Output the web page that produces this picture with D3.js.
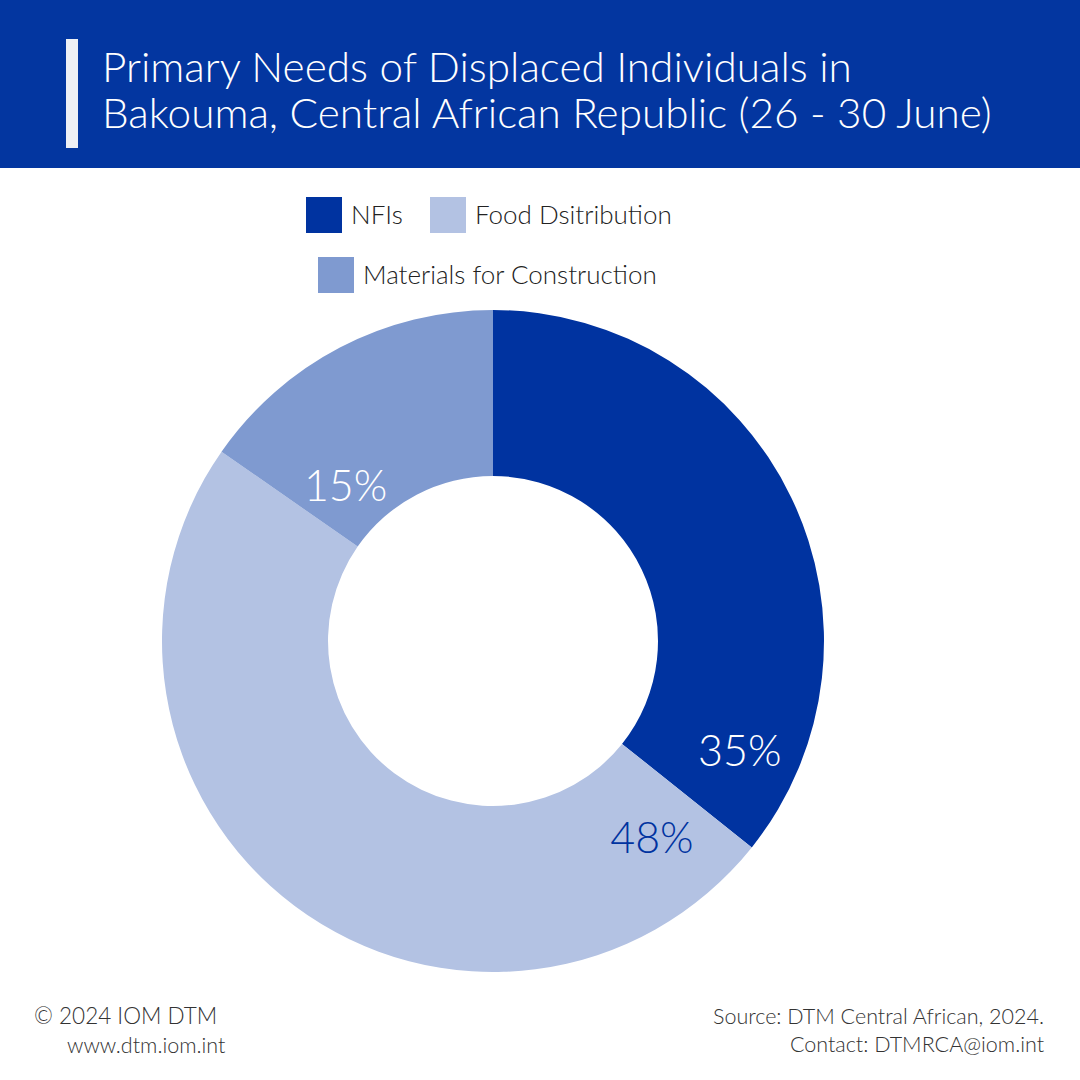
<!DOCTYPE html>
<html>
<head>
<meta charset="utf-8">
<script src="https://cdn.jsdelivr.net/npm/d3@7"></script>
<style>
  html, body { margin: 0; padding: 0; background: #fff; }
  svg text { font-family: Lato, "Open Sans", sans-serif; }
</style>
</head>
<body>
<div id="chart"></div>
<script>
    // Data
    const categories = ["NFIs", "Food Dsitribution", "Materials for Construction"];
    const values = [35, 48, 15];
    const colors = ["#0033a0", "#b3c2e3", "#7f9ad0"];
    const labelColors = ["#ffffff", "#0033a0", "#ffffff"];
    const titleLines = ["Primary Needs of Displaced Individuals in",
      "Bakouma, Central African Republic (26 - 30 June)"];

    // where each % label sits: fraction along its slice, radius
    const labelSpot = [[0.886, 270], [0.071, 253], [0.21, 214]];

    const width = 1080, height = 1080;
    const svg = d3.select("#chart").append("svg")
      .attr("width", width)
      .attr("height", height);

    // Header band
    svg.append("rect").attr("width", width).attr("height", 168).attr("fill", "#0336a0");
    svg.append("rect").attr("x", 66).attr("y", 39).attr("width", 12).attr("height", 109).attr("fill", "#eef0f5");

    const title = svg.append("g");
    titleLines.forEach((t, i) => {
      title.append("text")
        .attr("x", 102)
        .attr("y", 82 + i * 46)
        .attr("fill", "#fff")
        .attr("font-weight", 300)
        .attr("font-size", 40)
        .text(t);
    });
    // fit the long line to the width seen in the picture
    const longest = title.selectAll("text").nodes()[1].getComputedTextLength();
    title.selectAll("text").attr("font-size", 40 * 890 / longest);

    // Legend
    const legendItems = [
      { x: 306, y: 197 },
      { x: 430, y: 197 },
      { x: 318, y: 257 }
    ];
    const legend = svg.append("g");
    categories.forEach((c, i) => {
      const p = legendItems[i];
      legend.append("rect")
        .attr("x", p.x).attr("y", p.y)
        .attr("width", 36).attr("height", 36)
        .attr("fill", colors[i]);
      legend.append("text")
        .attr("x", p.x + 45).attr("y", p.y + 27)
        .attr("font-size", 26)
        .attr("font-weight", 300)
        .attr("fill", "#222")
        .text(c);
    });

    // Donut
    const cx = 493, cy = 641, outerR = 331, innerR = 165;
    const pie = d3.pie().sort(null).value(d => d);
    const arcs = pie(values);
    const arc = d3.arc().innerRadius(innerR).outerRadius(outerR);

    const g = svg.append("g").attr("transform", `translate(${cx},${cy})`);
    g.selectAll("path")
      .data(arcs)
      .join("path")
      .attr("d", arc)
      .attr("fill", (d, i) => colors[i]);

    g.selectAll("text.pct")
      .data(arcs)
      .join("text")
      .attr("class", "pct")
      .attr("transform", (d, i) => {
        const a = d.startAngle + (d.endAngle - d.startAngle) * labelSpot[i][0];
        const r = labelSpot[i][1];
        return `translate(${Math.sin(a) * r},${-Math.cos(a) * r})`;
      })
      .attr("text-anchor", "middle")
      .attr("dy", "0.36em")
      .attr("font-size", 43)
      .attr("font-weight", 300)
      .attr("fill", (d, i) => labelColors[i])
      .text(d => d.data + "%");

    // Footer
    const foot = svg.append("g").attr("fill", "#333").attr("font-size", 21.5).attr("font-weight", 300);
    foot.append("text").attr("x", 34).attr("y", 1024).text("\u00a9 2024 IOM DTM")
      .attr("font-size", 22.5);
    foot.append("text").attr("x", 67).attr("y", 1053).text("www.dtm.iom.int");
    foot.append("text").attr("x", 1044).attr("y", 1024).attr("text-anchor", "end")
      .text("Source: DTM Central African, 2024.");
    foot.append("text").attr("x", 1044).attr("y", 1052).attr("text-anchor", "end")
      .text("Contact: DTMRCA@iom.int");
</script>
</body>
</html>
